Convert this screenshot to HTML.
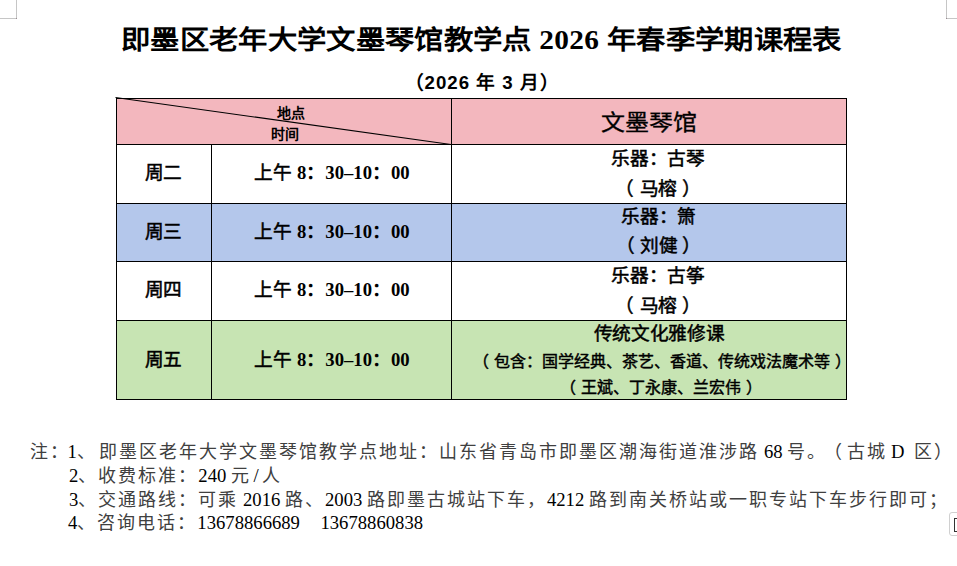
<!DOCTYPE html>
<html lang="zh-CN">
<head>
<meta charset="utf-8">
<title>即墨区老年大学文墨琴馆教学点2026年春季学期课程表</title>
<style>
html,body{margin:0;padding:0;background:#fff;}
body{width:957px;height:566px;position:relative;overflow:hidden;font-family:"Liberation Serif",serif;color:#000;text-spacing-trim:space-all;}
.abs{position:absolute;white-space:nowrap;}
.ln{position:absolute;white-space:nowrap;text-align:center;}
.mark{position:absolute;background:#c6c6c6;}
.title{font-size:29.33px;font-weight:bold;line-height:34px;transform:scaleY(0.91);transform-origin:50% 16px;letter-spacing:0.33px;}
.sub{font-family:"Liberation Sans",sans-serif;font-size:18.67px;font-weight:bold;line-height:22px;letter-spacing:1.0px;}
.cell{position:absolute;}
.hl{position:absolute;background:#000;height:1px;}
.vl{position:absolute;background:#000;width:1px;}
.pink{background:#f3b7be;}
.blue{background:#b4c7eb;}
.green{background:#c7e4b3;}
.f14{font-size:18.67px;font-weight:normal;-webkit-text-stroke:0.5px #000;line-height:30px;letter-spacing:-0.33px;}
.f12{font-size:16px;font-weight:normal;-webkit-text-stroke:0.45px #000;line-height:30px;}
.lp{position:relative;left:-5.5px;}
.tm{letter-spacing:0;font-weight:bold;-webkit-text-stroke:0;}
.tm .cj{font-weight:normal;-webkit-text-stroke:0.5px #000;}
.rp{position:relative;left:5px;}
.note{font-size:18px;line-height:24px;color:#404040;letter-spacing:2.0px;}
.lat{font-size:18.67px;letter-spacing:0;color:#000;}
.hd{font-family:"Liberation Sans",sans-serif;font-size:14px;font-weight:bold;line-height:16px;}
</style>
</head>
<body>
<div class="mark" style="left:16px;top:0;width:1px;height:19px"></div>
<div class="mark" style="left:0;top:18px;width:17px;height:1px"></div>
<div class="mark" style="left:946px;top:0;width:1px;height:19px"></div>
<div class="mark" style="left:946px;top:18px;width:11px;height:1px"></div>
<div class="mark" style="left:16px;top:18px;width:1px;height:1px;background:#9a8c92"></div>
<div class="mark" style="left:946px;top:18px;width:1px;height:1px;background:#9a8c92"></div>

<div class="abs title" style="left:121px;top:23px">即墨区老年大学文墨琴馆教学点 2026 年春季学期课程表</div>
<div class="abs sub" style="left:404.5px;top:72px">（2026 年 3 月）</div>

<div class="cell pink" style="left:116px;top:98px;width:731px;height:46px"></div>
<div class="cell blue" style="left:116px;top:203px;width:731px;height:58px"></div>
<div class="cell green" style="left:116px;top:320px;width:731px;height:79px"></div>

<svg class="abs" style="left:0;top:0" width="957" height="566"><line x1="115.5" y1="97.5" x2="451" y2="144.5" stroke="#000" stroke-width="1.1"/></svg>

<div class="abs hd" style="left:277px;top:105px">地点</div>
<div class="abs hd" style="left:270.5px;top:126px">时间</div>
<div class="ln" style="left:448.5px;top:107.5px;width:400px;font-family:'Liberation Sans',sans-serif;font-size:24px;line-height:30px;-webkit-text-stroke:0.35px #000;transform:scaleY(0.92)">文墨琴馆</div>

<div class="ln f14" style="left:118.50px;top:157.50px;width:90px;">周二</div>
<div class="ln f14 tm" style="left:214.00px;top:157.50px;width:236px;"><span class="cj">上午</span> 8：30–10：00</div>
<div class="ln f14" style="left:448.00px;top:143.50px;width:420px;">乐器：古琴</div>
<div class="ln f14" style="left:448.30px;top:173.50px;width:420px;"><span class="lp">（</span>马榕<span class="rp">）</span></div>
<div class="ln f14" style="left:118.50px;top:216.50px;width:90px;">周三</div>
<div class="ln f14 tm" style="left:214.00px;top:216.50px;width:236px;"><span class="cj">上午</span> 8：30–10：00</div>
<div class="ln f14" style="left:448.60px;top:202.30px;width:420px;">乐器：箫</div>
<div class="ln f14" style="left:448.60px;top:231.10px;width:420px;"><span class="lp">（</span>刘健<span class="rp">）</span></div>
<div class="ln f14" style="left:118.50px;top:275.00px;width:90px;">周四</div>
<div class="ln f14 tm" style="left:214.00px;top:275.00px;width:236px;"><span class="cj">上午</span> 8：30–10：00</div>
<div class="ln f14" style="left:448.00px;top:260.70px;width:420px;">乐器：古筝</div>
<div class="ln f14" style="left:448.30px;top:290.50px;width:420px;"><span class="lp">（</span>马榕<span class="rp">）</span></div>
<div class="ln f14" style="left:118.50px;top:344.50px;width:90px;">周五</div>
<div class="ln f14 tm" style="left:214.00px;top:344.50px;width:236px;"><span class="cj">上午</span> 8：30–10：00</div>
<div class="ln f14" style="left:449.00px;top:319.40px;width:420px;">传统文化雅修课</div>
<div class="ln f12" style="left:467.40px;top:346.50px;width:390px;"><span class="lp">（</span>包含：国学经典、茶艺、香道、传统戏法魔术等<span class="rp">）</span></div>
<div class="ln f12" style="left:466.20px;top:372.50px;width:390px;"><span class="lp">（</span>王斌、丁永康、兰宏伟<span class="rp">）</span></div>

<div class="hl" style="left:116px;top:98px;width:731px"></div>
<div class="hl" style="left:116px;top:144px;width:731px"></div>
<div class="hl" style="left:116px;top:203px;width:731px"></div>
<div class="hl" style="left:116px;top:261px;width:731px"></div>
<div class="hl" style="left:116px;top:320px;width:731px"></div>
<div class="hl" style="left:116px;top:399px;width:731px"></div>
<div class="vl" style="left:116px;top:98px;height:302px"></div>
<div class="vl" style="left:211px;top:144px;height:256px"></div>
<div class="vl" style="left:451px;top:98px;height:302px"></div>
<div class="vl" style="left:846px;top:98px;height:302px"></div>

<div class="abs note" style="left:30px;top:439.5px">注：<span class="lat" style="margin-left:-2.5px">1</span><span style="letter-spacing:4.5px">、</span>即墨区老年大学文墨琴馆教学点地址：山东省青岛市即墨区潮海街道淮涉路<span class="lat"> 68 </span>号。<span style="position:relative;left:-3.5px">（</span>古城<span class="lat" style="margin:0 4.5px 0 -1px"> D </span>区）</div>
<div class="abs note" style="left:69px;top:464px"><span class="lat">2</span>、收费标准：<span class="lat">240 </span>元<span class="lat" style="margin:0 3.5px 0 2.5px">/</span>人</div>
<div class="abs note" style="left:69px;top:488px"><span class="lat">3</span>、交通路线：可乘<span class="lat"> 2016 </span>路、<span class="lat">2003 </span>路即墨古城站下车，<span class="lat">4212 </span>路到南关桥站或一职专站下车步行即可；</div>
<div class="abs note" style="left:68px;top:510.7px"><span class="lat">4</span>、咨询电话：<span class="lat">13678866689</span><span class="lat" style="margin-left:20.5px">13678860838</span></div>

<div class="abs" style="left:949px;top:512px;width:12px;height:24px;border:1px solid #d0d0d0;border-radius:3px;box-sizing:border-box;background:#fff"></div>
<div class="abs" style="left:954px;top:518px;width:3px;height:14px;border:1px solid #333;border-right:none;box-sizing:border-box"></div>
</body>
</html>
